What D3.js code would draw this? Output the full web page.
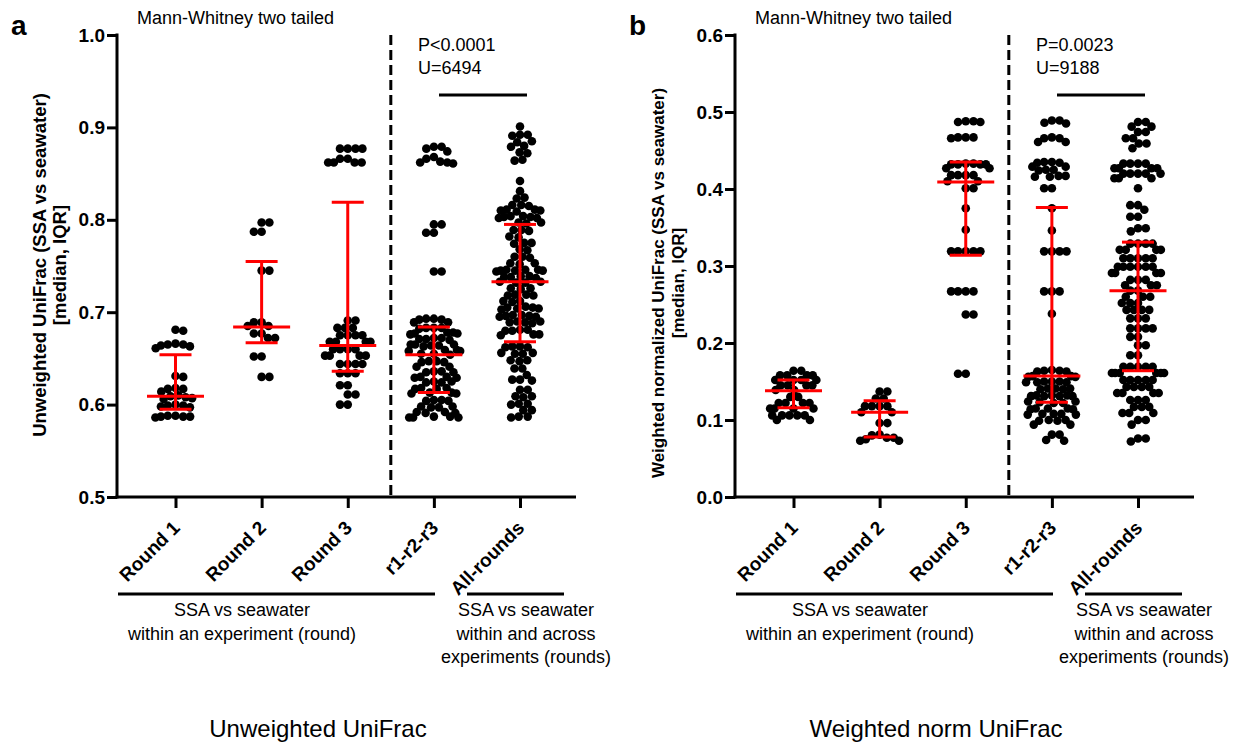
<!DOCTYPE html>
<html>
<head>
<meta charset="utf-8">
<script src="https://cdn.jsdelivr.net/npm/d3@7"></script>
<style>
  body { margin: 0; background: #fff; }
  svg text { font-family: "Liberation Sans", Arial, sans-serif; fill: #000; }
</style>
</head>
<body>
<svg id="chart" width="1238" height="745"></svg>
<script>
// ---------- categories ----------
const categories = ["Round 1", "Round 2", "Round 3", "r1-r2-r3", "All-rounds"];

// ---------- panel a: unweighted UniFrac (SSA vs seawater) ----------
const unweightedRound1 = [0.681,0.680,0.666,0.665,0.665,0.664,0.663,0.661,0.631,0.630,0.618,0.617,0.617,0.614,
  0.610,0.609,0.608,0.607,0.606,0.600,0.599,0.599,0.598,0.597,0.588,0.588,0.587,0.587,0.587,0.586];
const unweightedRound2 = [0.797,0.797,0.787,0.787,0.745,0.745,0.689,0.689,0.685,0.685,0.677,0.677,0.672,0.672,
  0.652,0.652,0.630,0.630];
const unweightedRound3 = [0.877,0.877,0.877,0.877,0.866,0.866,0.862,0.862,0.862,0.862,0.691,0.691,0.683,0.683,0.683,
  0.675,0.675,0.675,0.675,0.668,0.668,0.668,0.668,0.660,0.660,0.660,0.660,0.653,0.653,0.653,0.653,
  0.644,0.644,0.644,0.644,0.634,0.634,0.634,0.621,0.621,0.611,0.611,0.600,0.600];
const unweightedR1R2R3 = [0.879,0.879,0.877,0.874,0.868,0.866,0.863,0.862,0.862,0.861,0.795,0.795,0.786,0.786,0.744,0.744,
  0.693,0.693,0.692,0.692,0.689,0.689,0.683,0.683,0.683,0.682,0.678,0.678,0.677,0.677,0.676,
  0.672,0.672,0.671,0.671,0.670,0.665,0.665,0.665,0.664,0.664,0.663,0.659,0.659,0.658,0.658,
  0.655,0.655,0.654,0.647,0.647,0.646,0.646,0.641,0.641,0.636,0.636,0.635,0.635,0.630,0.630,0.629,0.629,
  0.625,0.625,0.624,0.624,0.618,0.618,0.617,0.617,0.613,0.613,0.612,0.612,0.605,0.605,0.604,0.604,
  0.598,0.598,0.597,0.597,0.592,0.592,0.591,0.591,0.587,0.587,0.586,0.586,0.586];
const unweightedAllRounds = [0.901,0.892,0.892,0.891,0.885,0.884,0.880,0.879,0.873,0.872,0.865,0.864,0.842,0.831,
  0.824,0.823,0.816,0.816,0.815,0.811,0.811,0.810,0.810,0.809,0.804,0.804,0.803,0.803,0.802,0.802,
  0.797,0.797,0.796,0.789,0.789,0.788,0.782,0.781,0.775,0.775,0.774,0.768,0.767,0.760,0.760,0.759,
  0.753,0.753,0.752,0.746,0.746,0.746,0.745,0.745,0.745,0.744,0.739,0.739,0.738,0.738,0.737,
  0.733,0.733,0.732,0.732,0.726,0.726,0.725,0.719,0.719,0.718,0.718,0.712,0.712,0.711,0.706,0.705,
  0.705,0.704,0.704,0.703,0.697,0.697,0.696,0.696,0.695,0.695,0.690,0.690,0.689,0.689,0.688,
  0.681,0.681,0.680,0.680,0.676,0.676,0.675,0.663,0.663,0.662,0.662,0.656,0.656,0.655,0.655,
  0.648,0.648,0.647,0.639,0.639,0.632,0.627,0.627,0.626,0.616,0.616,0.609,0.609,0.608,
  0.601,0.601,0.600,0.594,0.594,0.587,0.587,0.586];
const unweightedMedian = [0.609, 0.684, 0.664, 0.654, 0.733];
const unweightedQ1     = [0.595, 0.667, 0.636, 0.613, 0.668];
const unweightedQ3     = [0.654, 0.755, 0.819, 0.684, 0.795];
const unweightedTicks  = [0.5, 0.6, 0.7, 0.8, 0.9, 1.0];

// ---------- panel b: weighted normalized UniFrac (SSA vs seawater) ----------
const weightedRound1 = [0.164,0.164,0.158,0.158,0.158,0.158,0.152,0.152,0.152,0.152,0.145,0.145,0.145,0.145,
  0.139,0.139,0.130,0.130,0.122,0.122,0.122,0.122,0.115,0.115,0.115,0.115,0.106,0.106,0.106,0.106,0.106,0.100,0.100];
const weightedRound2 = [0.137,0.137,0.128,0.128,0.118,0.118,0.118,0.118,0.110,0.110,0.096,0.096,
  0.081,0.080,0.077,0.077,0.075,0.073,0.073];
const weightedRound3 = [0.488,0.487,0.487,0.488,0.467,0.467,0.466,0.467,0.433,0.432,0.432,0.432,0.433,0.432,
  0.427,0.427,0.418,0.418,0.418,0.418,0.410,0.410,0.401,0.401,0.375,0.347,
  0.319,0.319,0.319,0.319,0.319,0.267,0.267,0.267,0.267,0.237,0.237,0.160,0.160];
const weightedR1R2R3 = [0.489,0.489,0.486,0.485,0.467,0.466,0.466,0.461,0.461,0.435,0.435,0.434,0.434,
  0.429,0.429,0.425,0.425,0.424,0.417,0.417,0.416,0.416,0.401,0.401,0.375,0.346,
  0.319,0.319,0.319,0.319,0.267,0.267,0.267,0.238,
  0.165,0.164,0.164,0.163,0.163,0.157,0.157,0.156,0.156,0.150,0.150,0.150,0.149,0.149,0.149,
  0.141,0.141,0.141,0.140,0.140,0.132,0.132,0.132,0.131,0.131,0.131,0.131,
  0.124,0.124,0.123,0.122,0.122,0.115,0.115,0.115,0.114,0.114,0.108,0.108,0.108,0.107,0.107,
  0.100,0.100,0.099,0.099,0.094,0.094,0.081,0.081,0.074,0.073];
const weightedAllRounds = [0.487,0.487,0.481,0.481,0.474,0.474,0.466,0.466,0.459,0.459,0.453,
  0.433,0.433,0.433,0.433,0.427,0.427,0.427,0.427,0.420,0.420,0.420,0.420,0.420,0.414,0.414,0.414,
  0.401,0.379,0.379,0.373,0.364,0.364,0.349,0.349,0.345,0.329,0.329,0.329,0.329,0.321,0.321,0.321,0.321,
  0.310,0.310,0.310,0.310,0.310,0.299,0.299,0.299,0.299,0.299,0.299,0.291,0.291,0.291,0.291,
  0.282,0.282,0.282,0.275,0.275,0.275,0.268,0.268,
  0.260,0.260,0.260,0.252,0.252,0.252,0.243,0.243,0.243,0.243,0.232,0.232,0.232,
  0.219,0.219,0.219,0.219,0.208,0.208,0.197,0.197,0.184,0.184,
  0.169,0.169,0.169,0.169,0.169,0.161,0.161,0.161,0.161,0.161,0.161,0.152,0.152,0.152,0.152,0.152,
  0.143,0.143,0.143,0.143,0.135,0.135,0.135,0.135,0.126,0.126,0.126,0.117,0.117,0.117,
  0.109,0.109,0.109,0.100,0.100,0.094,0.076,0.076,0.072];
const weightedMedian = [0.138, 0.110, 0.409, 0.157, 0.268];
const weightedQ1     = [0.116, 0.078, 0.314, 0.123, 0.164];
const weightedQ3     = [0.152, 0.125, 0.435, 0.376, 0.331];
const weightedTicks  = [0.0, 0.1, 0.2, 0.3, 0.4, 0.5, 0.6];

// ---------- panel settings ----------
const panels = [
  { x0: 117, letter: "a", domain: [0.5, 1.0], ticks: unweightedTicks,
    groups: [unweightedRound1, unweightedRound2, unweightedRound3, unweightedR1R2R3, unweightedAllRounds],
    median: unweightedMedian, q1: unweightedQ1, q3: unweightedQ3,
    pText: "P<0.0001", uText: "U=6494",
    yTitle: ["Unweighted UniFrac (SSA vs seawater)", "[median, IQR]"], yTitleSize: 18.5, yTitleMid: 265,
    title: "Unweighted UniFrac" },
  { x0: 735, letter: "b", domain: [0.0, 0.6], ticks: weightedTicks,
    groups: [weightedRound1, weightedRound2, weightedRound3, weightedR1R2R3, weightedAllRounds],
    median: weightedMedian, q1: weightedQ1, q3: weightedQ3,
    pText: "P=0.0023", uText: "U=9188",
    yTitle: ["Weighted normalized UniFrac (SSA vs seawater)", "[median, IQR]"], yTitleSize: 17, yTitleMid: 283,
    title: "Weighted norm UniFrac" }
];

const yTop = 35, yBottom = 497, axisLen = 459;
const dotR = 4.3;
const red = "#ff0000";
const svg = d3.select("#chart");

// Greedy beeswarm: each point keeps its value-derived y and takes the
// nearest free horizontal offset from the category centre; wide rows are
// then squeezed so dense groups overlap instead of spreading sideways.
function swarm(values, y, r) {
  const D = 2 * r * 0.92;
  const L = 32;
  const pts = values.map(v => ({ v, y: y(v), dx: 0 })).sort((a, b) => a.y - b.y);
  const placed = [];
  let flip = 1;
  for (const p of pts) {
    const forb = [];
    for (const q of placed) {
      const dy = Math.abs(p.y - q.y);
      if (dy < D) {
        const w = Math.sqrt(D * D - dy * dy);
        forb.push([q.dx - w, q.dx + w]);
      }
    }
    const cands = [0];
    forb.forEach(f => { cands.push(f[0], f[1]); });
    cands.sort((a, b) => {
      const d = Math.abs(a) - Math.abs(b);
      if (Math.abs(d) > 1e-6) return d;
      return flip * (b - a);
    });
    let chosen = 0;
    for (const c of cands) {
      if (!forb.some(f => c > f[0] + 1e-6 && c < f[1] - 1e-6)) { chosen = c; break; }
    }
    if (chosen !== 0) flip = -flip;
    p.dx = chosen;
    placed.push(p);
  }
  pts.forEach(p => { p.dx = L * Math.tanh(p.dx / L); });
  return pts;
}

panels.forEach(P => {
  const g = svg.append("g");
  const x0 = P.x0;
  const y = d3.scaleLinear().domain(P.domain).range([yBottom, yTop]);
  const x = d3.scalePoint().domain(categories).range([x0 + 58.5, x0 + 403]);

  // panel letter
  g.append("text").attr("x", x0 - 106).attr("y", 35)
    .attr("font-size", 28).attr("font-weight", "bold").text(P.letter);

  // test name
  g.append("text").attr("x", x0 + 20).attr("y", 24)
    .attr("font-size", 18).text("Mann-Whitney two tailed");

  // y axis
  const yAxis = g.append("g").attr("transform", `translate(${x0},0)`)
    .call(d3.axisLeft(y).tickValues(P.ticks).tickSize(10).tickSizeOuter(0).tickPadding(2)
      .tickFormat(d3.format(".1f")));
  yAxis.select(".domain").attr("stroke", "#000").attr("stroke-width", 3)
    .attr("d", `M0,${yTop - 1.5}V${yBottom + 1.5}`);
  yAxis.selectAll(".tick line").attr("stroke", "#000").attr("stroke-width", 3);
  yAxis.selectAll(".tick text").attr("font-size", 19).attr("font-weight", "bold")
    .attr("font-family", "'Liberation Sans', Arial, sans-serif").attr("fill", "#000");

  // y axis title (two lines)
  [[P.yTitle[0], -71], [P.yTitle[1], -51]].forEach(([t, dx]) => {
    g.append("text")
      .attr("transform", `translate(${x0 + dx},${P.yTitleMid}) rotate(-90)`)
      .attr("text-anchor", "middle").attr("font-size", P.yTitleSize).attr("font-weight", "bold").text(t);
  });

  // x axis
  g.append("line").attr("x1", x0 - 1.5).attr("x2", x0 + axisLen)
    .attr("y1", yBottom).attr("y2", yBottom).attr("stroke", "#000").attr("stroke-width", 3);
  const xAxis = g.append("g").attr("transform", `translate(0,${yBottom})`)
    .call(d3.axisBottom(x).tickSize(11).tickSizeOuter(0));
  xAxis.select(".domain").remove();
  xAxis.selectAll(".tick line").attr("stroke", "#000").attr("stroke-width", 3);
  xAxis.selectAll(".tick text")
    .attr("x", null).attr("y", null).attr("dy", null)
    .attr("transform", "translate(5,32) rotate(-45)")
    .attr("text-anchor", "end").attr("font-size", 19).attr("font-weight", "bold")
    .attr("font-family", "'Liberation Sans', Arial, sans-serif").attr("fill", "#000");

  // dashed separator between the two comparison families
  const xSep = (x("Round 3") + x("r1-r2-r3")) / 2;
  g.append("line").attr("x1", xSep).attr("x2", xSep).attr("y1", yTop).attr("y2", yBottom)
    .attr("stroke", "#000").attr("stroke-width", 3).attr("stroke-dasharray", "10,5");

  // dots
  P.groups.forEach((vals, i) => {
    const cx = x(categories[i]);
    const pts = swarm(vals, y, dotR);
    g.append("g").selectAll("circle").data(pts).join("circle")
      .attr("cx", d => cx + d.dx).attr("cy", d => d.y).attr("r", dotR).attr("fill", "#000");
  });

  // median and interquartile range
  P.groups.forEach((vals, i) => {
    const cx = x(categories[i]);
    const eg = g.append("g").attr("stroke", red).attr("stroke-width", 3);
    eg.append("line").attr("x1", cx).attr("x2", cx).attr("y1", y(P.q3[i])).attr("y2", y(P.q1[i]));
    eg.append("line").attr("x1", cx - 16).attr("x2", cx + 16).attr("y1", y(P.q3[i])).attr("y2", y(P.q3[i]));
    eg.append("line").attr("x1", cx - 16).attr("x2", cx + 16).attr("y1", y(P.q1[i])).attr("y2", y(P.q1[i]));
    eg.append("line").attr("x1", cx - 28.5).attr("x2", cx + 28.5).attr("y1", y(P.median[i])).attr("y2", y(P.median[i]));
  });

  // significance annotation
  g.append("text").attr("x", x0 + 301).attr("y", 51).attr("font-size", 18).text(P.pText);
  g.append("text").attr("x", x0 + 301).attr("y", 74).attr("font-size", 18).text(P.uText);
  g.append("line").attr("x1", x0 + 322).attr("x2", x0 + 410).attr("y1", 95).attr("y2", 95)
    .attr("stroke", "#000").attr("stroke-width", 3);

  // group brackets and captions
  g.append("line").attr("x1", x0 + 1).attr("x2", x0 + 318).attr("y1", 594).attr("y2", 594)
    .attr("stroke", "#000").attr("stroke-width", 3);
  g.append("line").attr("x1", x0 + 350).attr("x2", x0 + 447).attr("y1", 594).attr("y2", 594)
    .attr("stroke", "#000").attr("stroke-width", 3);
  [["SSA vs seawater", 616], ["within an experiment (round)", 640]].forEach(([t, yy]) => {
    g.append("text").attr("x", x0 + 125).attr("y", yy).attr("text-anchor", "middle")
      .attr("font-size", 18).text(t);
  });
  [["SSA vs seawater", 616], ["within and across", 640], ["experiments (rounds)", 663]].forEach(([t, yy]) => {
    g.append("text").attr("x", x0 + 409).attr("y", yy).attr("text-anchor", "middle")
      .attr("font-size", 18).text(t);
  });

  // panel caption
  g.append("text").attr("x", x0 + 201).attr("y", 737).attr("text-anchor", "middle")
    .attr("font-size", 24).text(P.title);
});
</script>
</body>
</html>
